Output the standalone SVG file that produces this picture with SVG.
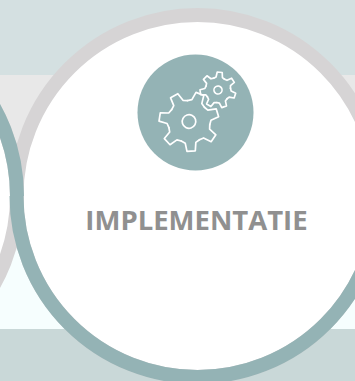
<svg xmlns="http://www.w3.org/2000/svg" width="355" height="381" viewBox="0 0 355 381">
  <style>
    .gear { fill: none; stroke: #ffffff; stroke-linejoin: round; stroke-linecap: round; }
    .label { font-family: "Open Sans", "Liberation Sans", sans-serif; font-weight: 700; font-size: 27.5px; fill: #909090; text-anchor: middle; }
  </style>
  <defs>
    <path id="tooth" d="M18.92 -9.11L21.35 -5.32L29.7 -4.18L29.7 4.18L21.35 5.32L18.92 9.11"/>
    <g id="cog">
      <use href="#tooth" transform="rotate(0)"/>
      <use href="#tooth" transform="rotate(51.43)"/>
      <use href="#tooth" transform="rotate(102.86)"/>
      <use href="#tooth" transform="rotate(154.29)"/>
      <use href="#tooth" transform="rotate(205.71)"/>
      <use href="#tooth" transform="rotate(257.14)"/>
      <use href="#tooth" transform="rotate(308.57)"/>
    </g>
  </defs>
  <g id="background">
    <rect x="0" y="0" width="355" height="75" fill="#d4e0e1"/>
    <rect x="0" y="75" width="355" height="121" fill="#e8e8e8"/>
    <rect x="0" y="196" width="355" height="133" fill="#f6fefe"/>
    <rect x="0" y="329" width="355" height="52" fill="#c9d8d8"/>
  </g>
  <g id="node-implementatie-back">
    <circle cx="197.500" cy="196" r="181" fill="#ffffff" stroke="#d6d4d5" stroke-width="14"/>
  </g>
  <g id="node-previous">
    <circle cx="-164" cy="196" r="181" fill="#ffffff" stroke="#d6d4d5" stroke-width="14"/>
    <path d="M17 196A181 181 0 0 0 -345 196" fill="none" stroke="#94b3b5" stroke-width="14"/>
  </g>
  <g id="node-implementatie">
    <path d="M16.500 196A181 181 0 0 0 378.500 196" fill="none" stroke="#94b3b5" stroke-width="14"/>
    <circle cx="195.500" cy="112.500" r="58" fill="#94b3b5"/>
    <g class="gear" stroke-width="1.700" transform="translate(189 121.500) rotate(-17)">
      <use href="#cog"/>
      <circle r="6.800"/>
    </g>
    <g class="gear" stroke-width="2.800" transform="translate(218 90) rotate(-33) scale(0.6)">
      <use href="#cog"/>
      <circle r="6.700"/>
    </g>
    <text class="label" x="196.500" y="230">IMPLEMENTATIE</text>
  </g>
  <g id="connectors"></g>
</svg>
